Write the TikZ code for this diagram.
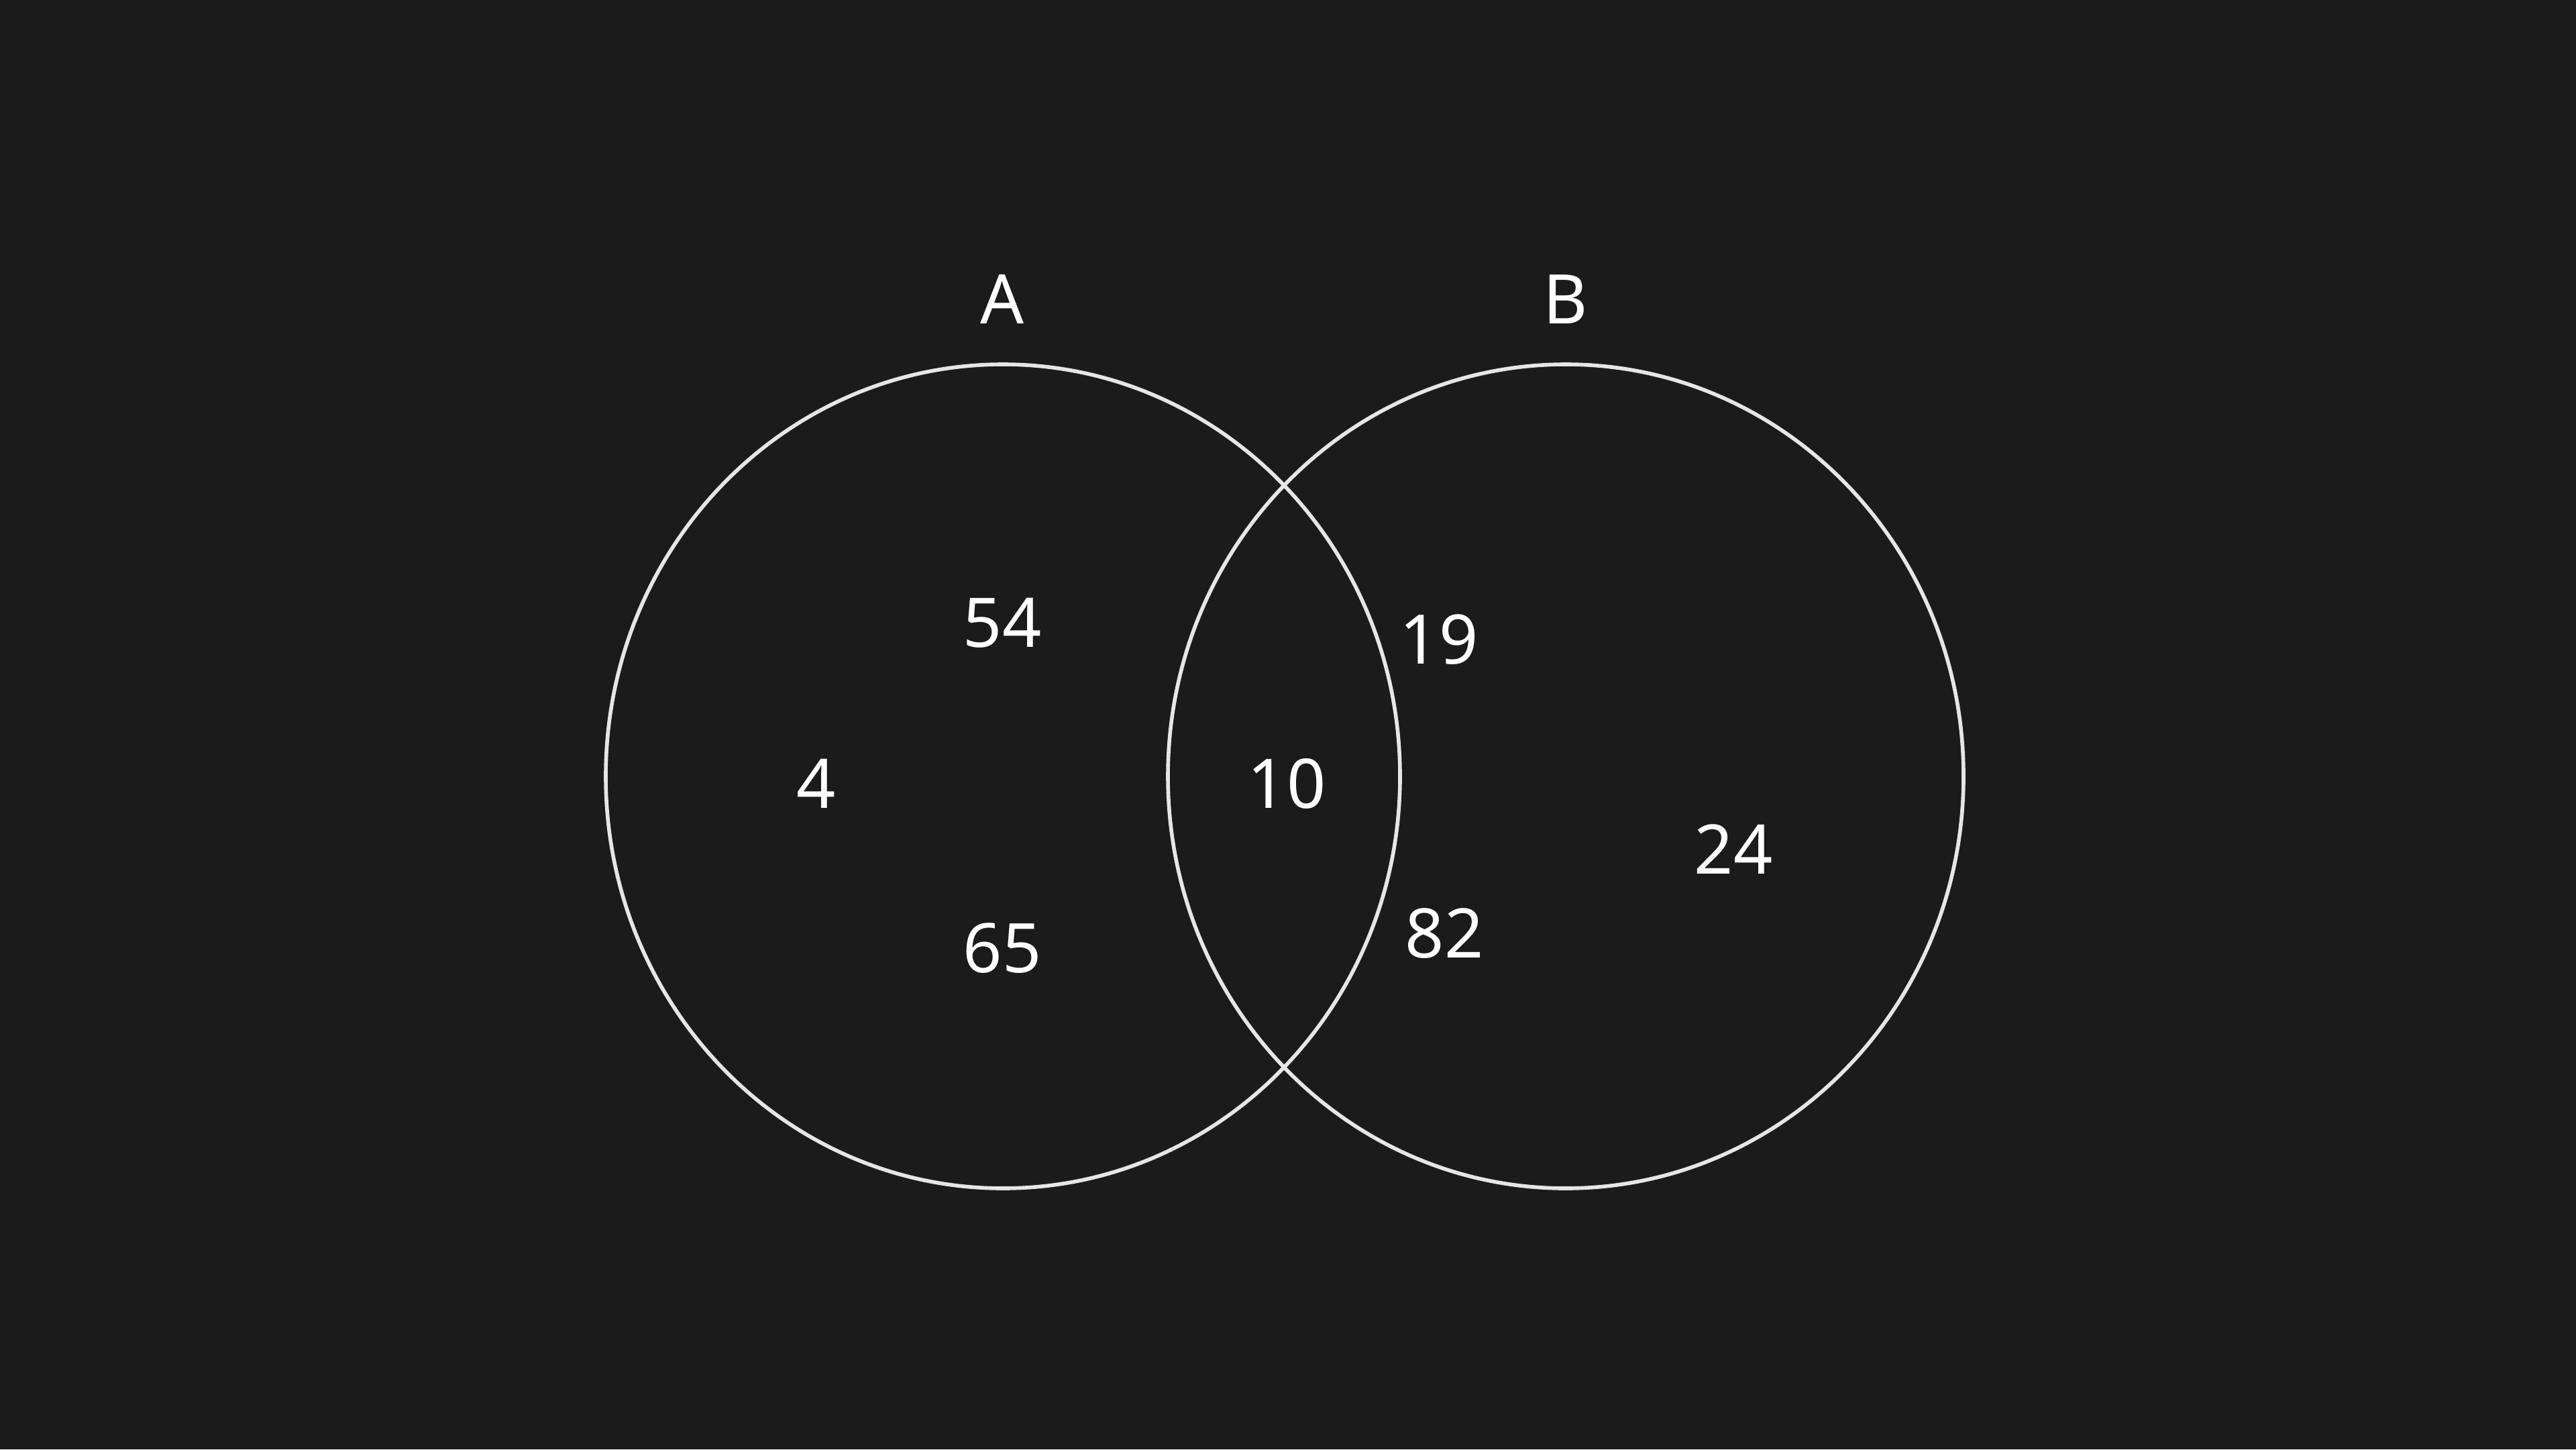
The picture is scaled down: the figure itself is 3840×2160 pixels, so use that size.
\documentclass[tikz,border=0pt]{standalone}
\usepackage{fontspec}
\setmainfont{Noto Sans}
\definecolor{bg}{HTML}{1B1B1B}
\definecolor{ring}{HTML}{E6E6E6}
\tikzset{
  setline/.style={draw=ring, line width=1.6pt},
  num/.style={text=white, font=\fontsize{29}{34}\selectfont, inner sep=0pt}
}
\begin{document}
\begin{tikzpicture}[x=0.01cm, y=-0.01cm]
  \fill[bg] (0,0) rectangle (3840,2160);
  \useasboundingbox (0,0) rectangle (3840,2160);
  \coordinate (CA) at (1495, 1157);
  \coordinate (CB) at (2334, 1157);

  % Sets
  \draw[setline] (CA) ellipse [x radius=592, y radius=614];
  \draw[setline] (CB) ellipse [x radius=593, y radius=614];

  % Labels
  \node[num] (labA) at (1494, 446) {A};
  \node[num] (labB) at (2334, 446) {B};
  \node[num] (n54) at (1494, 928) {54};
  \node[num] (n4) at (1217, 1168) {4};
  \node[num] (n65) at (1494, 1413) {65};
  \node[num] (n10) at (1918, 1168) {10};
  \node[num] (n19) at (2145, 953) {19};
  \node[num] (n82) at (2153, 1391) {82};
  \node[num] (n24) at (2584, 1266) {24};
\end{tikzpicture}
\end{document}
